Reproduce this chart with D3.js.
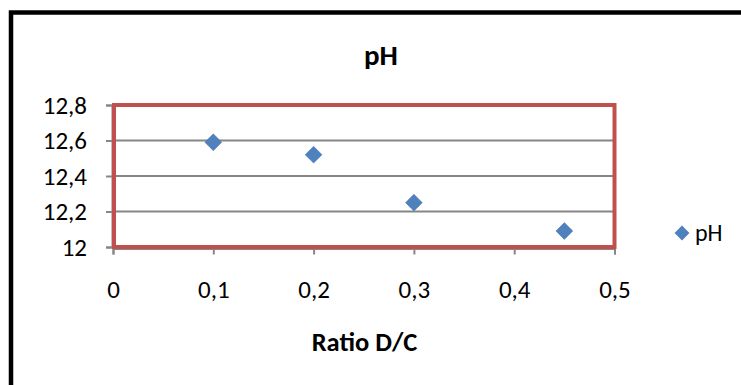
<!DOCTYPE html>
<html><head><meta charset="utf-8">
<script src="https://cdn.jsdelivr.net/npm/d3@7"></script>
<style>body{margin:0;background:#fff;}svg{display:block;font-family:Carlito,Lato,"Liberation Sans",sans-serif;}</style>
</head><body><svg id="c" width="741" height="385"></svg>
<script>
const ratios = [0.1, 0.2, 0.3, 0.45];
const phValues = [12.59, 12.52, 12.25, 12.09];
const xTicks = [0, 0.1, 0.2, 0.3, 0.4, 0.5];
const yTicks = [12, 12.2, 12.4, 12.6, 12.8];
const seriesName = "pH";
const chartTitle = "pH";
const xTitle = "Ratio D/C";

const svg = d3.select("#c");
const FONT = "Carlito,Lato,sans-serif";
const fmt = d => String(+d.toFixed(1)).replace(".", ",");
// outer frame
svg.append("rect").attr("x", 11).attr("y", 12.5).attr("width", 760).attr("height", 400)
  .attr("fill", "#fff").attr("stroke", "#000").attr("stroke-width", 4.5);

const x = d3.scaleLinear().domain([0, 0.5]).range([113, 614.5]);
const y = d3.scaleLinear().domain([12, 12.8]).range([247, 105]);

// gridlines
svg.append("g").selectAll("line").data(yTicks.slice(1, -1)).join("line")
  .attr("x1", x(0)).attr("x2", x(0.5)).attr("y1", d => y(d)).attr("y2", d => y(d))
  .attr("stroke", "#868686").attr("stroke-width", 2);

// y axis
const ya = svg.append("g").attr("transform", `translate(${x(0) - 1},0)`)
  .call(d3.axisLeft(y).tickValues(yTicks).tickFormat(fmt).tickSize(6).tickPadding(19));
ya.select(".domain").attr("stroke", "#868686").attr("stroke-width", 2);
ya.selectAll(".tick line").attr("stroke", "#868686").attr("stroke-width", 2);
ya.selectAll("text").attr("font-size", 25).attr("fill", "#000").attr("font-family", FONT)
  .attr("dy", "0.33em");

// x axis
const xAxisY = y(12) + 1.5;
const xa = svg.append("g").attr("transform", `translate(0,${xAxisY})`)
  .call(d3.axisBottom(x).tickValues(xTicks).tickFormat(fmt).tickSize(6));
xa.select(".domain").attr("stroke", "#868686").attr("stroke-width", 2);
xa.selectAll(".tick line").attr("stroke", "#868686").attr("stroke-width", 2);
xa.selectAll("text").attr("font-size", 25).attr("fill", "#000").attr("font-family", FONT)
  .attr("y", 298 - xAxisY).attr("dy", 0);

// red plot border
svg.append("rect").attr("x", x(0) + 1).attr("y", y(12.8)).attr("width", x(0.5) - x(0) - 1).attr("height", y(12) - y(12.8))
  .attr("fill", "none").attr("stroke", "#C0504D").attr("stroke-width", 4);

// points
const diamond = d3.symbol().type(d3.symbolDiamond2).size(180);
svg.append("g").selectAll("path").data(ratios.map((r, i) => [r, phValues[i]])).join("path")
  .attr("d", diamond).attr("transform", d => `translate(${x(d[0])},${y(d[1])})`)
  .attr("fill", "#4F81BD").attr("stroke", "#3f71ad").attr("stroke-width", 0.5);

// title
svg.append("text").attr("x", 381).attr("y", 65).attr("text-anchor", "middle").attr("font-family", FONT)
  .attr("font-size", 29).attr("font-weight", "bold").text(chartTitle);
svg.append("text").attr("x", 364.5).attr("y", 351).attr("text-anchor", "middle").attr("font-family", FONT)
  .attr("font-size", 26.5).attr("font-weight", "bold").text(xTitle);

// legend
svg.append("path").attr("d", d3.symbol().type(d3.symbolDiamond2).size(140))
  .attr("transform", "translate(682,233)").attr("fill", "#4F81BD");
svg.append("text").attr("x", 695).attr("y", 241).attr("font-family", FONT).attr("font-size", 24).text(seriesName);
</script></body></html>
